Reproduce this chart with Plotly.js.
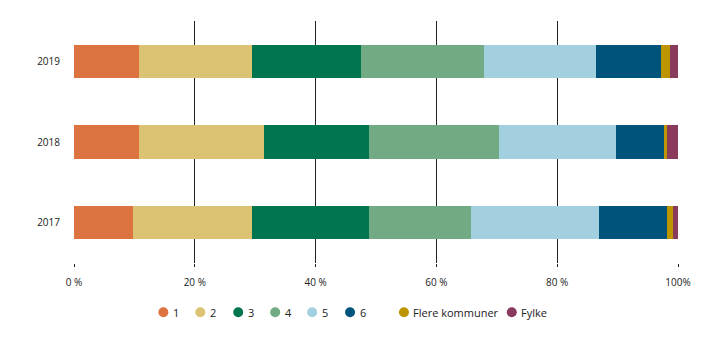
<!DOCTYPE html>
<html><head><meta charset="utf-8">
<script src="https://cdn.plot.ly/plotly-3.0.1.min.js"></script>
<style>html,body{margin:0;padding:0;background:#fff}#c{width:719px;height:341px}</style>
</head><body><div id="c"></div>
<script>
const years = ["2017", "2018", "2019"];
const seriesNames = ["1", "2", "3", "4", "5", "6", "Flere kommuner", "Fylke"];
const s1 = [9.8, 10.8, 10.7];
const s2 = [19.7, 20.7, 18.8];
const s3 = [19.3, 17.35, 18.0];
const s4 = [16.9, 21.5, 20.35];
const s5 = [21.15, 19.35, 18.5];
const s6 = [11.4, 7.9, 10.9];
const sFlere = [0.85, 0.5, 1.5];
const sFylke = [0.9, 1.9, 1.25];
const xTickVals = [0, 20, 40, 60, 80, 100];
const xTickText = ["0 %", "20 %", "40 %", "60 %", "80 %", "100%"];

const colors = ["#DD7340", "#DCC373", "#007550", "#72AA83", "#A2D0DF", "#00537A", "#BC9500", "#8A3A5A"];
const values = [s1, s2, s3, s4, s5, s6, sFlere, sFylke];
const font = {family: "Open Sans, sans-serif", size: 10, color: "#222"};

// plot-area geometry (pixels)
const W = 719, H = 341, ML = 73.5, MR = 40.5, MT = 21, MB = 78;
const PW = W - ML - MR, PH = H - MT - MB;
const px2x = p => (p - ML) / PW;
const py2y = p => (H - MB - p) / PH;

const traces = values.map((v, i) => ({
  type: "bar", orientation: "h", x: v, y: years, name: seriesNames[i],
  marker: {color: colors[i], line: {width: 0}}, showlegend: false,
  hoverinfo: "x+name"
}));

// custom legend (layout only): marker centre pixel positions
const legendPx = [163, 200, 238, 275, 312, 350, 404, 512];
const legendPy = 312.3;
const shapes = [], annotations = [];
seriesNames.forEach((n, i) => {
  shapes.push({
    type: "circle", xref: "paper", yref: "paper",
    xsizemode: "pixel", ysizemode: "pixel",
    xanchor: px2x(legendPx[i]), yanchor: py2y(legendPy),
    x0: -5, x1: 5, y0: -5, y1: 5,
    fillcolor: colors[i], line: {width: 0}
  });
  annotations.push({
    xref: "paper", yref: "paper", x: px2x(legendPx[i] + 7.5), y: py2y(legendPy),
    xanchor: "left", yanchor: "middle", showarrow: false, text: n,
    font: {family: "Open Sans, sans-serif", size: 11, color: "#222"}
  });
});

const layout = {
  width: W, height: H,
  margin: {l: ML, r: MR, t: MT, b: MB},
  barmode: "stack", bargap: 0.59,
  paper_bgcolor: "#fff", plot_bgcolor: "#fff",
  font: font,
  xaxis: {
    range: [0, 100], tickvals: xTickVals, ticktext: xTickText,
    showgrid: true, gridcolor: "#222", gridwidth: 1,
    zeroline: false, showline: false,
    ticks: "outside", ticklen: 3, tickcolor: "#222", ticklabelstandoff: 7,
    tickfont: font, fixedrange: true
  },
  yaxis: {
    type: "category", categoryorder: "array", categoryarray: years,
    showgrid: false, zeroline: false, showline: false,
    ticks: "", ticklabelstandoff: 13, tickfont: font, fixedrange: true
  },
  shapes: shapes,
  annotations: annotations,
  showlegend: false
};
Plotly.newPlot("c", traces, layout, {displayModeBar: false, staticPlot: true});
</script></body></html>
